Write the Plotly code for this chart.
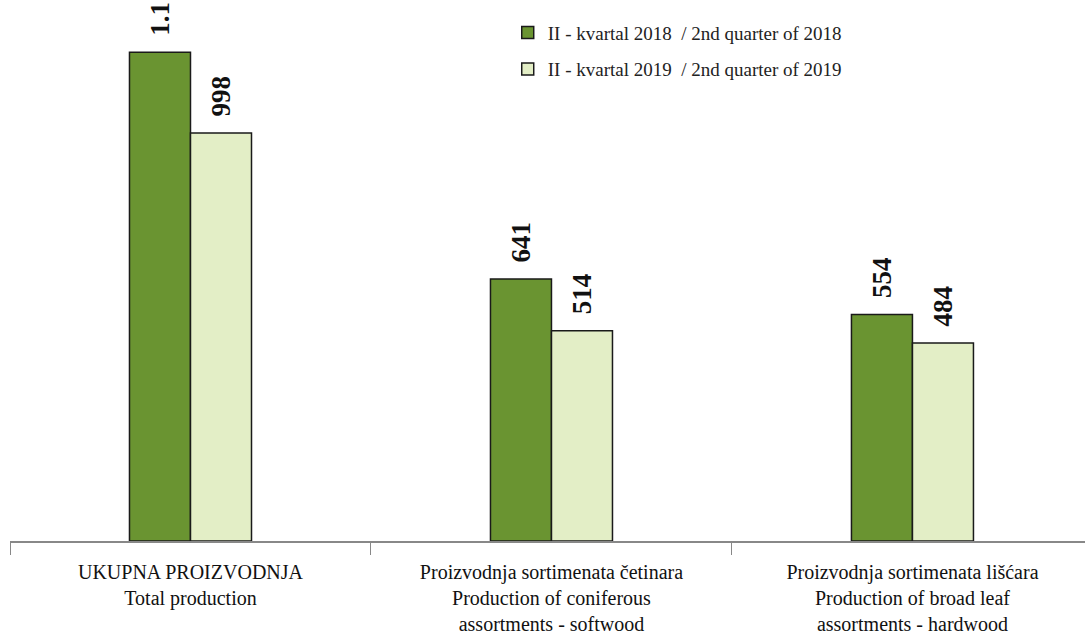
import plotly.graph_objects as go

categories = [
    "UKUPNA PROIZVODNJA<br>Total production",
    "Proizvodnja sortimenata četinara<br>Production of coniferous<br>assortments - softwood",
    "Proizvodnja sortimenata lišćara<br>Production of broad leaf<br>assortments - hardwood",
]
series_names = [
    "II - kvartal 2018  / 2nd quarter of 2018",
    "II - kvartal 2019  / 2nd quarter of 2019",
]
values_2018 = [1195, 641, 554]
values_2019 = [998, 514, 484]
labels_2018 = ["1.1", "641", "554"]
labels_2019 = ["998", "514", "484"]

colors = ["#6a9431", "#e3eec6"]
pad = "\u00a0\u00a0"

fig = go.Figure()
for name, vals, labs, col, grp in [
    (series_names[0], values_2018, labels_2018, colors[0], "a"),
    (series_names[1], values_2019, labels_2019, colors[1], "b"),
]:
    fig.add_trace(go.Bar(
        x=categories, y=vals, name=name, legendgroup=grp,
        text=[pad + "<b>" + t + "</b>" for t in labs], textposition="outside", textangle=-90,
        textfont=dict(family="Liberation Serif", size=27, color="#111111"),
        constraintext="none", cliponaxis=False,
        marker=dict(color=col, line=dict(color="#1a1a1a", width=1.5)),
    ))

fig.update_layout(
    width=1085, height=639,
    margin=dict(l=10, r=0, t=0, b=98),
    paper_bgcolor="white", plot_bgcolor="white",
    barmode="group", bargap=0.662, bargroupgap=0,
    showlegend=True,
    legend=dict(
        x=0.463, y=0.975, xanchor="left", yanchor="top",
        font=dict(family="Liberation Serif", size=19, color="#222222"),
        bgcolor="rgba(0,0,0,0)", tracegroupgap=9, itemwidth=30,
    ),
    font=dict(family="Liberation Serif"),
)
fig.update_xaxes(
    range=[-0.5, 2.478], tickson="boundaries", ticks="outside", ticklen=12,
    tickcolor="#888888", showline=True, linecolor="#888888", linewidth=1.5,
    tickfont=dict(family="Liberation Serif", size=20, color="#111111"),
    ticklabelstandoff=12, automargin=False,
    showgrid=False, fixedrange=True,
)
fig.update_yaxes(range=[0, 1323], visible=False, showgrid=False)

fig.write_html("out.html", post_script="document.body.style.margin='0';",
               config={"displayModeBar": False})
